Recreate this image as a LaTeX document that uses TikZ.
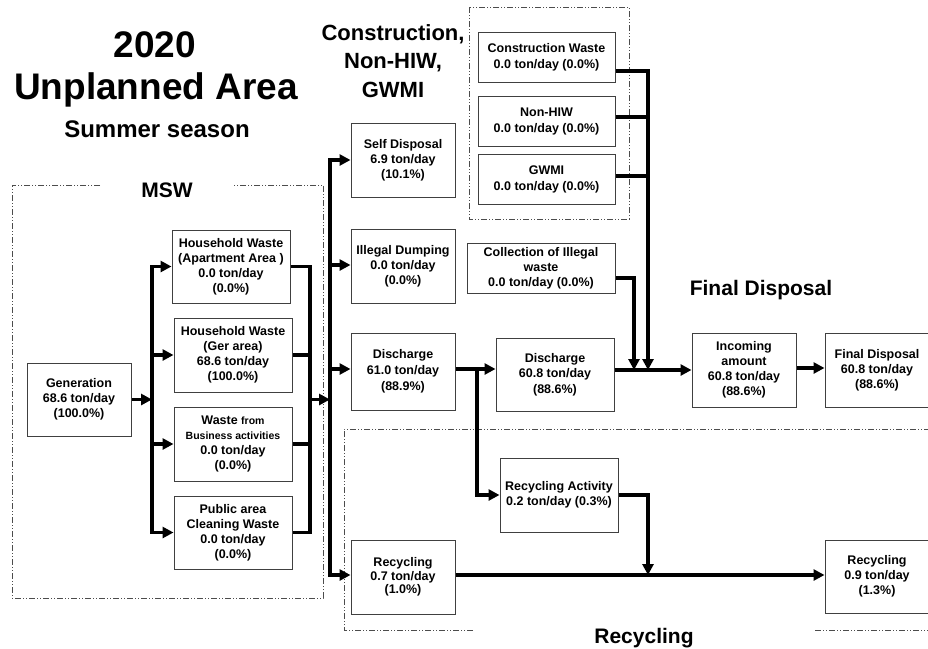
\documentclass[tikz,border=0pt]{standalone}
\usepackage{fontspec}
\setmainfont{Liberation Sans}
\usetikzlibrary{arrows.meta}
\begin{document}
\begin{tikzpicture}[x=1pt,y=-1pt,
  box/.style={draw=black!75, line width=1pt, fill=white, inner sep=0pt, align=center,
    font=\fontsize{12.5}{15}\selectfont\bfseries},
  wh/.style 2 args={minimum width=#1pt, minimum height=#2pt},
  flow/.style={line width=3.2pt, line join=miter},
  arr/.style={flow, -{Triangle[length=11pt,width=11pt]}},
  zone/.style={draw=black!70, line width=0.8pt,
    dash pattern=on 6pt off 2pt on 1pt off 2pt on 1pt off 2pt},
  head/.style={font=\fontsize{21}{25}\selectfont\bfseries, inner sep=0pt, anchor=base},
  title/.style={font=\fontsize{37}{40}\selectfont\bfseries, inner sep=0pt, anchor=base}
]
\useasboundingbox (0,0) rectangle (928,648);

% ---- titles ----
\node[title] (t1) at (155,57) {2020};
\node[title] (t2) at (156,99) {Unplanned Area};
\node[title, font=\fontsize{24}{28}\selectfont\bfseries] (t3) at (157,137) {Summer season};

% ---- zone frames and their labels ----
\draw[zone] (100,185) -- (12,185) -- (12,598) -- (323,598) -- (323,185) -- (233,185);
\node[head] (lmsw) at (167,197) {MSW};
\draw[zone] (469,7) rectangle (629,219);
\node[head, font=\fontsize{22}{28.5}\selectfont\bfseries, align=center, anchor=base]
  (lcon) at (393,97) {Construction,\\Non-HIW,\\GWMI};
\draw[zone] (473,630) -- (344,630) -- (344,429) -- (932,429);
\draw[zone] (815,630) -- (932,630);
\node[head] (lrec) at (644,643) {Recycling};
\node[head] (lfd) at (761,295) {Final Disposal};

% ---- MSW boxes ----
\node[box, wh={104}{73}] (gen) at (79,399.5) {Generation\\68.6 ton/day\\(100.0\%)};
\node[box, wh={118}{73}] (hwa) at (231,266.5) {Household Waste\\(Apartment Area )\\0.0 ton/day\\(0.0\%)};
\node[box, wh={118}{74}] (hwg) at (233,355) {Household Waste\\(Ger area)\\68.6 ton/day\\(100.0\%)};
\node[box, wh={118}{74}] (wbus) at (233,444)
  {Waste {\fontsize{10.5}{15}\selectfont from}\\{\fontsize{10.5}{15}\selectfont Business activities}\\0.0 ton/day\\(0.0\%)};
\node[box, wh={118}{73}] (pub) at (233,532.5) {Public area\\Cleaning Waste\\0.0 ton/day\\(0.0\%)};

% ---- disposal routes ----
\node[box, wh={104}{74}] (self) at (403,160) {Self Disposal\\6.9 ton/day\\(10.1\%)};
\node[box, wh={104}{74}] (ill) at (403,266) {Illegal Dumping\\0.0 ton/day\\(0.0\%)};
\node[box, wh={104}{77}, font=\fontsize{12.5}{16}\selectfont\bfseries] (dis1) at (403,371.5) {Discharge\\61.0 ton/day\\(88.9\%)};
\node[box, wh={104}{74}, font=\fontsize{12.5}{13.5}\selectfont\bfseries] (rec1) at (403,577) {Recycling\\0.7 ton/day\\(1.0\%)};
\node[box, wh={118}{73}, font=\fontsize{12.5}{15.5}\selectfont\bfseries] (dis2) at (555,374.5) {Discharge\\60.8 ton/day\\(88.6\%)};
\node[box, wh={118}{74}] (ra) at (559,495) {Recycling Activity\\0.2 ton/day (0.3\%)};
\node[box, wh={104}{74}] (inc) at (744,370) {Incoming\\amount\\60.8 ton/day\\(88.6\%)};
\node[box, wh={104}{74}] (fd) at (877,370) {Final Disposal\\60.8 ton/day\\(88.6\%)};
\node[box, wh={104}{73}] (rec2) at (877,576.5) {Recycling\\0.9 ton/day\\(1.3\%)};

% ---- construction, non-HIW, GWMI and illegal waste collection ----
\node[box, wh={137}{50}, font=\fontsize{12.5}{16}\selectfont\bfseries] (cw) at (546.5,57) {Construction Waste\\0.0 ton/day (0.0\%)};
\node[box, wh={137}{50}, font=\fontsize{12.5}{16}\selectfont\bfseries] (nh) at (546.5,121) {Non-HIW\\0.0 ton/day (0.0\%)};
\node[box, wh={137}{50}, font=\fontsize{12.5}{16}\selectfont\bfseries] (gw) at (546.5,179) {GWMI\\0.0 ton/day (0.0\%)};
\node[box, wh={148}{50}] (col) at (541,268) {Collection of Illegal\\waste\\0.0 ton/day (0.0\%)};

% ---- junction points ----
\coordinate (busL) at (152,399.5);
\coordinate (colR) at (310,399.5);
\coordinate (busM) at (330,399.5);
\coordinate (j1) at (477,369);
\coordinate (m1) at (634,370);
\coordinate (m2) at (648,370);
\coordinate (m3) at (648,575);

% ---- MSW flows ----
\draw[arr] (gen.east) -- (busL);
\draw[arr] (busL) |- (hwa.west);
\draw[arr] (busL) |- (hwg.west);
\draw[arr] (busL) |- (wbus.west);
\draw[arr] (busL) |- (pub.west);
\draw[flow] (hwa.east) -| (colR);
\draw[flow] (hwg.east) -| (colR);
\draw[flow] (wbus.east) -| (colR);
\draw[flow] (pub.east) -| (colR);
\draw[arr] (colR) -- (busM);

% ---- main distribution ----
\draw[arr] (busM) |- (self.west);
\draw[arr] (busM) |- ([yshift=1pt]ill.west);
\draw[arr] (busM) |- ([yshift=2.5pt]dis1.west);
\draw[arr] (busM) |- ([yshift=2pt]rec1.west);

% ---- discharge chain ----
\draw[arr] (j1 -| dis1.east) -- (j1 -| dis2.west);
\draw[arr] (j1) |- (ra.west);
\draw[arr] (inc.west -| dis2.east) -- (inc.west);
\draw[arr] ([yshift=-10pt]col.east) -| (m1);
\draw[arr] ([yshift=-14pt]cw.east) -| (m2);
\draw[flow] ([yshift=4pt]nh.east) -- ([yshift=4pt]nh.east -| m2);
\draw[flow] ([yshift=3pt]gw.east) -- ([yshift=3pt]gw.east -| m2);
\draw[arr] ([yshift=2pt]inc.east) -- ([yshift=2pt]inc.east -| fd.west);

% ---- recycling ----
\draw[arr] (ra.east) -| (m3);
\draw[arr] (m3 -| rec1.east) -- (m3 -| rec2.west);
\end{tikzpicture}
\end{document}
